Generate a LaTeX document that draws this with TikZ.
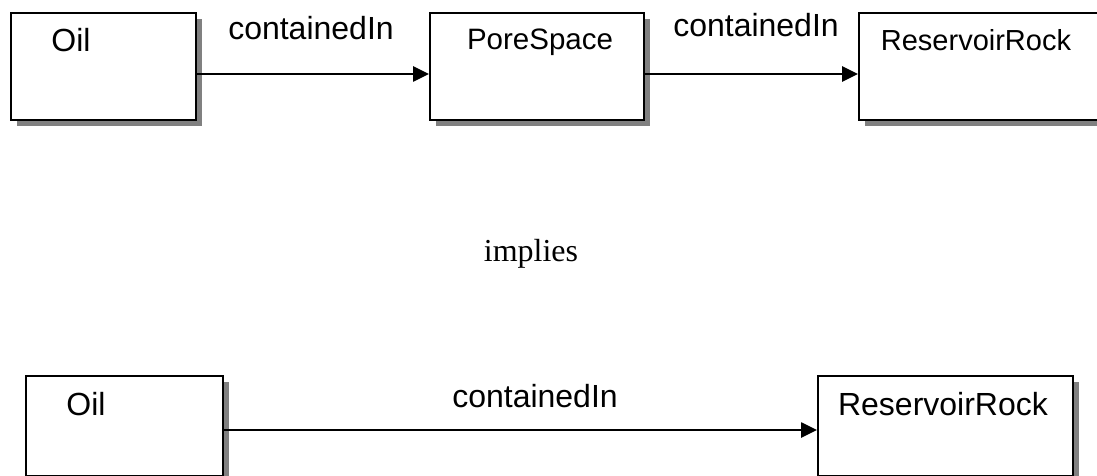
\documentclass[tikz,border=0pt]{standalone}
\usepackage{fontspec}
\setmainfont{Liberation Serif}
\setsansfont{Liberation Sans}
\usetikzlibrary{shadows,arrows.meta}

\tikzset{
  box/.style={draw=black, line width=2.2pt, fill=white, rectangle, inner sep=0pt,
    anchor=north west,
    drop shadow={shadow xshift=6pt, shadow yshift=-6pt, fill=black!50, opacity=1}},
  boxtext/.style={anchor=base, inner sep=0pt, font=\sffamily\fontsize{#1}{#1}\selectfont},
  boxtext/.default=32,
  rel/.style={anchor=base, inner sep=0pt, font=\sffamily\fontsize{32}{32}\selectfont},
  arr/.style={line width=2.6pt, -{Triangle[length=16pt,width=15pt]}},
}

\begin{document}
\begin{tikzpicture}[x=1pt, y=-1pt]
  \useasboundingbox (0,0) rectangle (1097,476);
  \clip (0,0) rectangle (1097,476);

  % premise: Oil -> PoreSpace -> ReservoirRock
  \node[box, minimum width=185pt, minimum height=107pt] (oilA) at (10,12) {};
  \node[box, minimum width=214pt, minimum height=107pt] (pore) at (429,12) {};
  \node[box, minimum width=260pt, minimum height=107pt] (rockA) at (858,12) {};

  \node[boxtext=32] (oilAt) at (71,52) {Oil};
  \node[boxtext=29.5] (poret) at (540,50) {PoreSpace};
  \node[boxtext=29] (rockAt) at (976,51) {ReservoirRock};

  \coordinate (rowA) at (0,74);
  \draw[arr] (oilA.east |- rowA) -- (pore.west |- rowA);
  \draw[arr] (pore.east |- rowA) -- (rockA.west |- rowA);
  \node[rel] (relA) at (311,40) {containedIn};
  \node[rel] (relB) at (756,37) {containedIn};

  % conclusion
  \node[anchor=base, inner sep=0pt, font=\rmfamily\fontsize{32}{32}\selectfont] (impl) at (531,261) {implies};

  \node[box, minimum width=197pt, minimum height=100pt] (oilB) at (25,375) {};
  \node[box, minimum width=255pt, minimum height=100pt] (rockB) at (817,375) {};

  \node[boxtext=32] (oilBt) at (86,415) {Oil};
  \node[boxtext=32] (rockBt) at (943,415) {ReservoirRock};

  \coordinate (rowB) at (0,430);
  \draw[arr] (oilB.east |- rowB) -- (rockB.west |- rowB);
  \node[rel] (relC) at (535,407) {containedIn};
\end{tikzpicture}
\end{document}
